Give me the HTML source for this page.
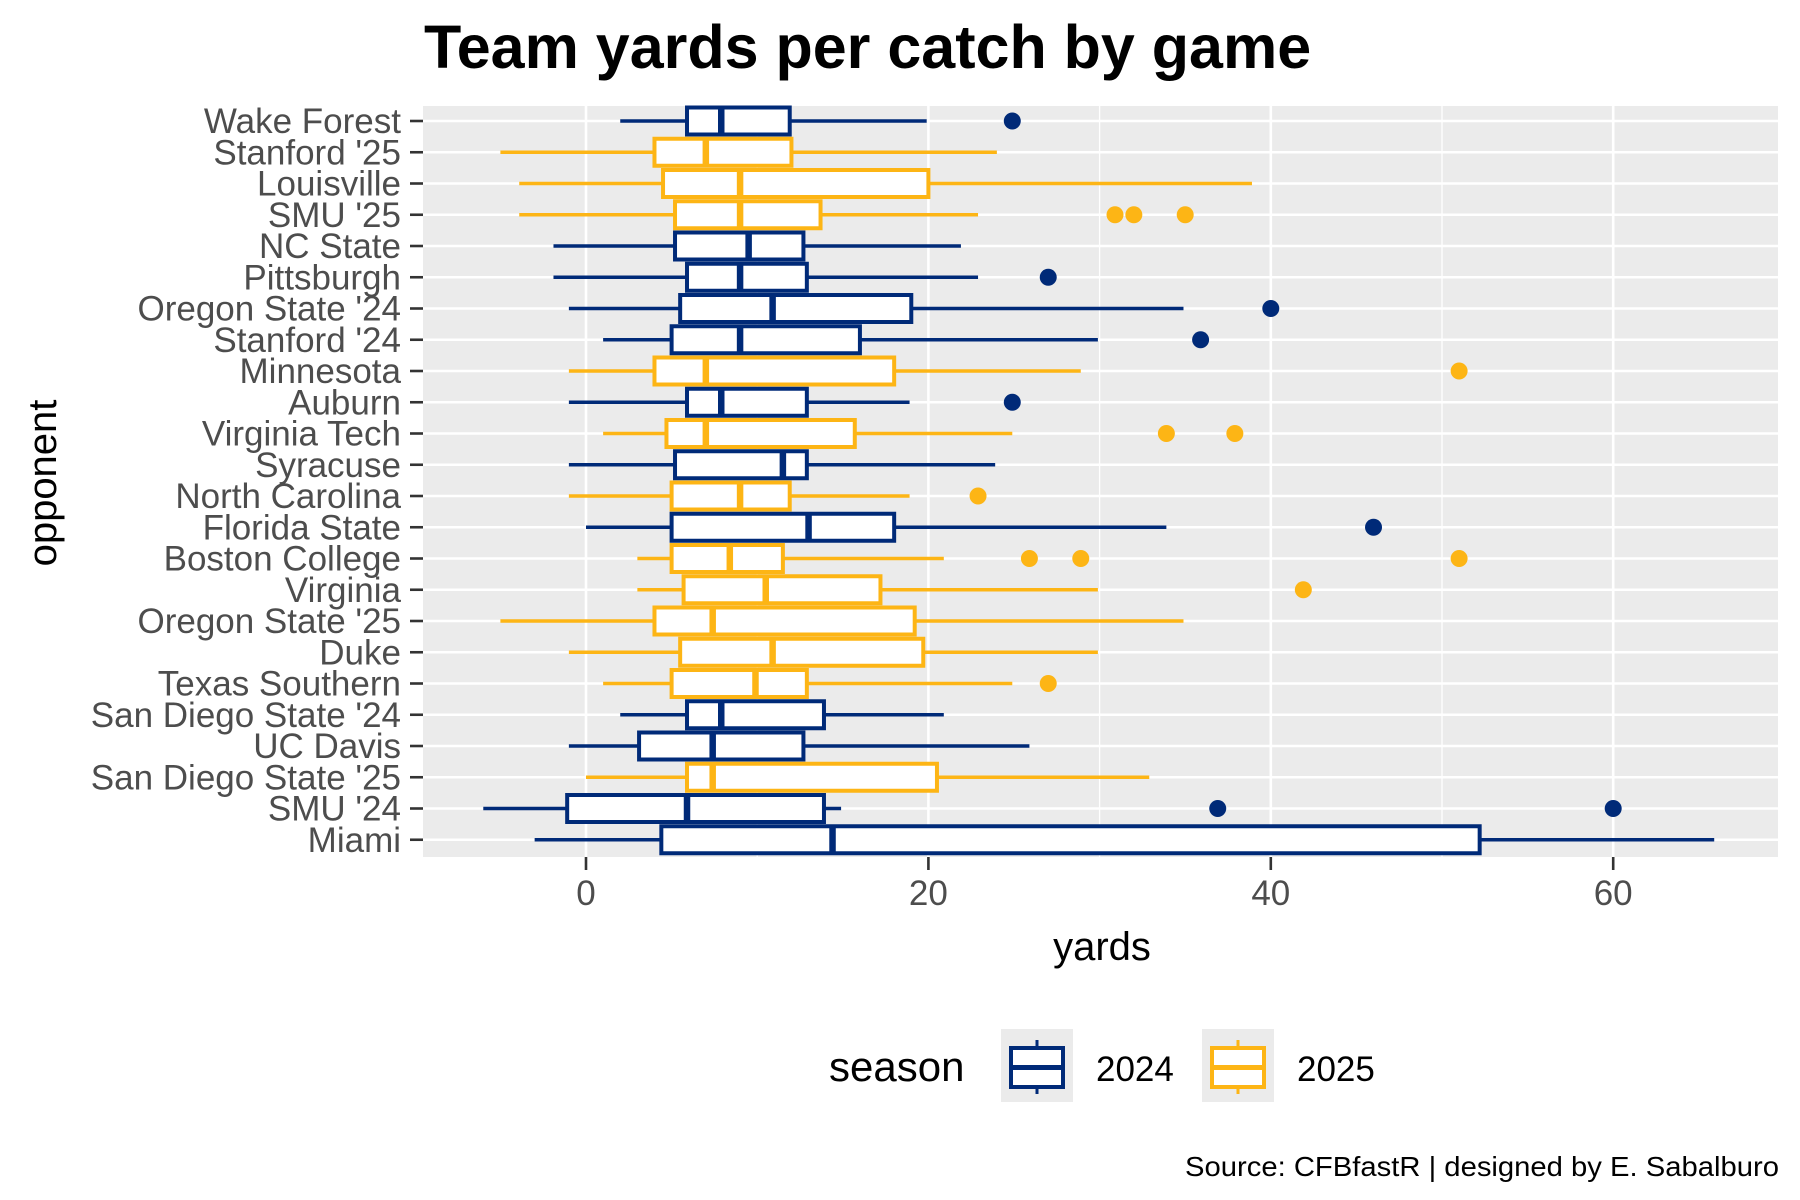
<!DOCTYPE html>
<html><head><meta charset="utf-8"><style>
body{margin:0;background:#fff}
svg{display:block;font-family:"Liberation Sans",Arial,sans-serif}
</style></head><body>
<svg id="chart" width="1800" height="1200" viewBox="0 0 1800 1200">
<text x="424" y="68" font-size="61" font-weight="bold" fill="#000">Team yards per catch by game</text>
<rect x="423" y="106" width="1355" height="751" fill="#EBEBEB"/>
<g id="grid"></g>
<g id="boxes"></g>
<g id="yaxis"></g>
<g id="xaxis"></g>
<text x="1102" y="960" font-size="40" text-anchor="middle" fill="#000">yards</text>
<text transform="translate(56,483) rotate(-90)" font-size="40" text-anchor="middle" fill="#000">opponent</text>
<g>
<text x="829" y="1081" font-size="42" fill="#000">season</text>
<g>
<rect x="1001" y="1029" width="72" height="73" fill="#EBEBEB"/>
<line x1="1037" y1="1040" x2="1037" y2="1094" stroke="#002A78" stroke-width="3"/>
<rect x="1011" y="1048" width="52" height="39" fill="#fff" stroke="#002A78" stroke-width="4"/>
<line x1="1011" y1="1067.5" x2="1063" y2="1067.5" stroke="#002A78" stroke-width="5"/>
</g>
<text x="1096" y="1081" font-size="35" fill="#000">2024</text>
<g>
<rect x="1202" y="1029" width="72" height="73" fill="#EBEBEB"/>
<line x1="1238" y1="1040" x2="1238" y2="1094" stroke="#FDB515" stroke-width="3"/>
<rect x="1212" y="1048" width="52" height="39" fill="#fff" stroke="#FDB515" stroke-width="4"/>
<line x1="1212" y1="1067.5" x2="1264" y2="1067.5" stroke="#FDB515" stroke-width="5"/>
</g>
<text x="1297" y="1081" font-size="35" fill="#000">2025</text>
</g>
<text x="1185" y="1176" font-size="28" fill="#000" textLength="594" lengthAdjust="spacingAndGlyphs">Source: CFBfastR | designed by E. Sabalburo</text>
</svg>
<script>
const opponents=["Wake Forest","Stanford '25","Louisville","SMU '25","NC State","Pittsburgh","Oregon State '24","Stanford '24","Minnesota","Auburn","Virginia Tech","Syracuse","North Carolina","Florida State","Boston College","Virginia","Oregon State '25","Duke","Texas Southern","San Diego State '24","UC Davis","San Diego State '25","SMU '24","Miami"];
const seasons=[2024,2025,2025,2025,2024,2024,2024,2024,2025,2024,2025,2024,2025,2024,2025,2025,2025,2025,2025,2024,2024,2025,2024,2024];
const whiskerLow=[2,-5,-3.9,-3.9,-1.9,-1.9,-1,1,-1,-1,1,-1,-1,0,3,3,-5,-1,1,2,-1,0,-6,-3];
const q1=[5.9,4,4.5,5.2,5.2,5.9,5.5,5,4,5.9,4.7,5.2,5,5,5,5.7,4,5.5,5,5.9,3.1,5.9,-1.1,4.4];
const medians=[7.9,7,9,9,9.5,9,10.9,9,7,7.9,7,11.5,9,13,8.4,10.5,7.4,10.9,9.9,7.9,7.4,7.4,5.9,14.4];
const q3=[11.9,12,20,13.7,12.7,12.9,19,16,18,12.9,15.7,12.9,11.9,18,11.5,17.2,19.2,19.7,12.9,13.9,12.7,20.5,13.9,52.2];
const whiskerHigh=[19.9,24,38.9,22.9,21.9,22.9,34.9,29.9,28.9,18.9,24.9,23.9,18.9,33.9,20.9,29.9,34.9,29.9,24.9,20.9,25.9,32.9,14.9,65.9];
const outliers=[[24.9],[],[],[30.9,32,35],[],[27],[40],[35.9],[51],[24.9],[33.9,37.9],[],[22.9],[46],[25.9,28.9,51],[41.9],[],[],[27],[],[],[],[36.9,60],[]];
const xTicks=[0,20,40,60];
const xMinor=[-10,10,30,50];

const NS="http://www.w3.org/2000/svg";
const x0=586, pxPerYard=17.12;
function xs(v){return x0+v*pxPerYard;}
const rowTop=121, rowStep=31.25;
function ys(i){return rowTop+i*rowStep;}
const colors={2024:"#002A78",2025:"#FDB515"};
const L=423,R=1778,T=106,B=857;
function mk(tag,attrs,parent){const e=document.createElementNS(NS,tag);for(const k in attrs)e.setAttribute(k,attrs[k]);parent.appendChild(e);return e;}

const grid=document.getElementById('grid');
xMinor.forEach(v=>{const x=xs(v);if(x>L&&x<R){const l=mk('line',{x1:x,x2:x,y1:T,y2:B,stroke:'#fff','stroke-width':1.3},grid);

}});
xTicks.forEach(v=>{const l=mk('line',{x1:xs(v),x2:xs(v),y1:T,y2:B,stroke:'#fff','stroke-width':2.6},grid);

});
opponents.forEach((o,i)=>{const l=mk('line',{x1:L,x2:R,y1:ys(i),y2:ys(i),stroke:'#fff','stroke-width':2.6},grid);

});

const boxes=document.getElementById('boxes');
const bh=27;
opponents.forEach((o,i)=>{
 const c=colors[seasons[i]], y=ys(i);
 const g=mk('g',{},boxes);
 
 
 mk('line',{x1:xs(whiskerLow[i]),x2:xs(q1[i]),y1:y,y2:y,stroke:c,'stroke-width':3.6},g);
 mk('line',{x1:xs(q3[i]),x2:xs(whiskerHigh[i]),y1:y,y2:y,stroke:c,'stroke-width':3.6},g);
 mk('rect',{x:xs(q1[i]),y:y-bh/2,width:xs(q3[i])-xs(q1[i]),height:bh,fill:'#fff',stroke:c,'stroke-width':4},g);
 mk('line',{x1:xs(medians[i]),x2:xs(medians[i]),y1:y-bh/2,y2:y+bh/2,stroke:c,'stroke-width':6.5},g);
 outliers[i].forEach(v=>{const p=mk('circle',{cx:xs(v),cy:y,r:8.5,fill:c},g);
 
 });
});

const ya=document.getElementById('yaxis');
opponents.forEach((o,i)=>{
 const t=mk('line',{x1:410,x2:423,y1:ys(i),y2:ys(i),stroke:'#333','stroke-width':2.6},ya);
 
 
 const tx=mk('text',{x:401,y:ys(i)+12,'font-size':35,'text-anchor':'end',fill:'#4D4D4D'},ya);
 tx.textContent=o;
 
 
});
const xa=document.getElementById('xaxis');
xTicks.forEach(v=>{
 const t=mk('line',{x1:xs(v),x2:xs(v),y1:B,y2:B+13,stroke:'#333','stroke-width':2.6},xa);
 
 
 const tx=mk('text',{x:xs(v),y:B+48,'font-size':35,'text-anchor':'middle',fill:'#4D4D4D'},xa);
 tx.textContent=String(v);
 
 
});
</script>
</body></html>
